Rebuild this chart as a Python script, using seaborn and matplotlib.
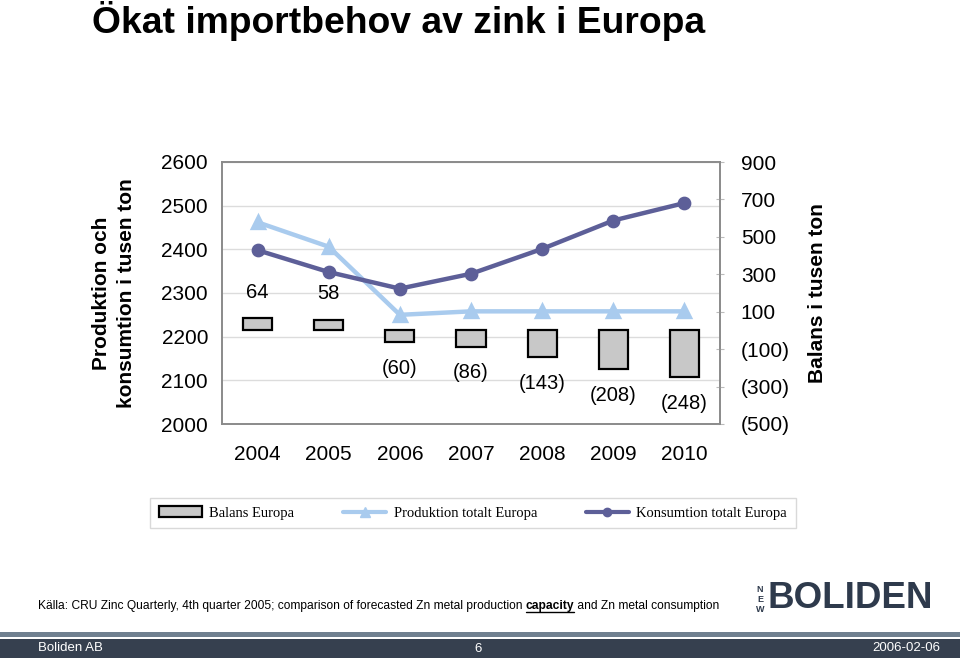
import numpy as np
import pandas as pd
import matplotlib
matplotlib.use("Agg")
import matplotlib.pyplot as plt
import seaborn as sns
from matplotlib.patches import Rectangle, Patch
from matplotlib.lines import Line2D

# data
years = ["2004", "2005", "2006", "2007", "2008", "2009", "2010"]
produktion = [2462, 2406, 2250, 2258, 2258, 2258, 2258]
konsumtion = [2398, 2348, 2310, 2344, 2401, 2466, 2506]
balans = [64, 58, -60, -86, -143, -208, -248]
balans_labels = ["64", "58", "(60)", "(86)", "(143)", "(208)", "(248)"]
left_ticks = [2000, 2100, 2200, 2300, 2400, 2500, 2600]
right_ticks = [-500, -300, -100, 100, 300, 500, 700, 900]
right_ticklabels = ["(500)", "(300)", "(100)", "100", "300", "500", "700", "900"]

prod_color = "#a9cbee"
kons_color = "#5d5f98"
bar_color = "#c8c8c8"
spine_color = "#8a8a8a"
logo_color = "#2e3a4c"

sns.set_style("white")
plt.rcParams['font.family'] = ['Liberation Sans', 'DejaVu Sans']
plt.rcParams['text.color'] = 'black'
plt.rcParams['xtick.color'] = 'black'
plt.rcParams['ytick.color'] = 'black'
plt.rcParams['axes.labelcolor'] = 'black'

W, H = 960, 659
fig = plt.figure(figsize=(W / 100, H / 100), dpi=100)
ax = fig.add_axes([222 / W, 1 - 424 / H, 498 / W, 262 / H])
ax2 = ax.twinx()

# lines on left axis
sns.pointplot(x=years, y=produktion, ax=ax, color=prod_color, markers="^",
              markersize=9, linewidth=3.2)
sns.pointplot(x=years, y=konsumtion, ax=ax, color=kons_color, markers="o",
              markersize=7.5, linewidth=3.2)
ax.set_ylim(2000, 2600)
ax.set_yticks(left_ticks)
ax.yaxis.grid(True, color="#dcdcdc", lw=1)
ax.set_axisbelow(True)

# bars on right axis
sns.barplot(x=years, y=balans, ax=ax2, color=bar_color, saturation=1,
            edgecolor="black", linewidth=1.6, width=0.41)
ax2.set_ylim(-500, 900)
ax2.set_yticks(right_ticks)
ax2.set_yticklabels(right_ticklabels)
for i, (v, lab) in enumerate(zip(balans, balans_labels)):
    ax2.annotate(lab, (i, v), xytext=(0, 19 if v > 0 else -19),
                 textcoords="offset points", ha="center", va="center", fontsize=14.5)

ax.set_xlim(-0.5, 6.5)
ax.set_xlabel("")
ax.set_ylabel("Produktion och\nkonsumtion i tusen ton", fontsize=15,
              fontweight="bold", labelpad=18, linespacing=1.45)
ax2.set_ylabel("Balans i tusen ton", fontsize=15, fontweight="bold", labelpad=13)
ax.tick_params(axis="y", length=0, pad=10, labelsize=15)
ax.tick_params(axis="x", which="major", length=0, pad=15, labelsize=15)
ax.set_xticks(np.arange(-0.5, 7, 1), minor=True)
ax.tick_params(axis="x", which="minor", length=5, color=spine_color, direction="out")
ax2.tick_params(axis="y", length=6, direction="inout", color="#bbbbbb", pad=12, labelsize=15)
for a in (ax, ax2):
    for s in a.spines.values():
        s.set_color(spine_color)
        s.set_linewidth(1.2)

# legend
handles = [Patch(facecolor=bar_color, edgecolor="black", linewidth=1.6),
           Line2D([], [], color=prod_color, lw=3, marker="^", ms=7),
           Line2D([], [], color=kons_color, lw=3, marker="o", ms=6)]
names = ["Balans Europa", "Produktion totalt Europa", "Konsumtion totalt Europa"]
leg = fig.legend(handles, names, loc="center", bbox_to_anchor=(473 / W, 1 - 513 / H),
                 ncol=3, frameon=True, fancybox=False, edgecolor="#d0d0d0",
                 prop={"family": ["Liberation Serif"], "size": 10.5},
                 handlelength=2.95, handleheight=0.7, columnspacing=3.35,
                 handletextpad=0.5, borderpad=0.6)
leg.get_frame().set_linewidth(1)

# title
fig.text(92 / W, 1 - 21 / H, "Ökat importbehov av zink i Europa", fontsize=26.8,
         fontweight="bold", ha="left", va="center")

# source line with bold underlined word
fig.canvas.draw()
r = fig.canvas.get_renderer()
parts = [("Källa: CRU Zinc Quarterly, 4th quarter 2005; comparison of forecasted Zn metal production ", "normal"),
         ("capacity", "bold"),
         (" and Zn metal consumption", "normal")]
x = 38
for txt, wt in parts:
    t = fig.text(x / W, 1 - 606 / H, txt, fontsize=8.65, fontweight=wt,
                 ha="left", va="center")
    bb = t.get_window_extent(r)
    if wt == "bold":
        fig.add_artist(Line2D([bb.x0 / W, bb.x1 / W], [(bb.y0 + 0.5) / H] * 2,
                              color="black", lw=1, transform=fig.transFigure))
    x = bb.x1

# logo
fig.text(768 / W, 1 - 599 / H, "BOLIDEN", fontsize=26.5, fontweight="bold",
         color=logo_color, ha="left", va="center")
for k, ch in enumerate("NEW"):
    fig.text(760 / W, 1 - (589 + k * 10) / H, ch, fontsize=6.5, fontweight="bold",
             color=logo_color, ha="center", va="center")

# footer bands
fig.add_artist(Rectangle((0, 1 - 637 / H), 1, 5 / H, transform=fig.transFigure,
                         color="#708090", lw=0))
fig.add_artist(Rectangle((0, 1 - 658 / H), 1, 19 / H, transform=fig.transFigure,
                         color="#36404f", lw=0))
fig.text(38 / W, 1 - 648 / H, "Boliden AB", color="white", fontsize=9.5,
         ha="left", va="center")
fig.text(478 / W, 1 - 649 / H, "6", color="white", fontsize=9.5, ha="center", va="center")
fig.text(940 / W, 1 - 648 / H, "2006-02-06", color="white", fontsize=9.5,
         ha="right", va="center")

fig.savefig("out.png", dpi=100)
